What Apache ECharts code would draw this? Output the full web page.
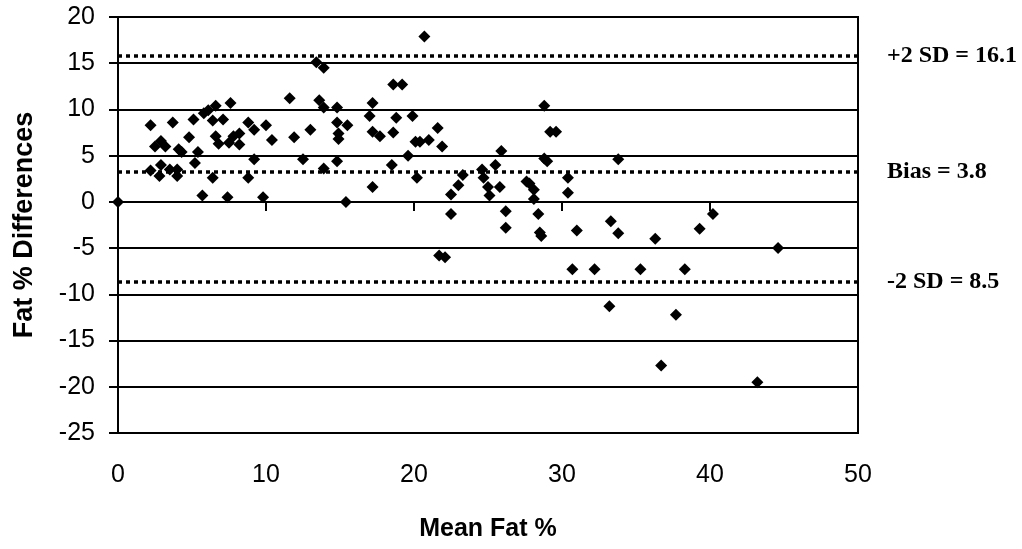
<!DOCTYPE html>
<html>
<head>
<meta charset="utf-8">
<script src="https://cdn.jsdelivr.net/npm/echarts@6/dist/echarts.min.js"></script>
<style>
    html, body { margin: 0; padding: 0; background: #fff; }
    #chart { width: 1022px; height: 549px; }
</style>
</head>
<body>
<div id="chart"></div>
<script>
// mean fat % (x) and fat % differences (y)
var meanFat = [
    0, 2.2, 2.5, 2.9, 3.2, 2.2, 2.8, 2.9, 3.5, 4.0, 4.0, 3.7, 4.1, 4.3, 4.8, 5.1, 5.2, 5.4, 5.7, 5.8,
    6.1, 6.4, 6.6, 6.4, 6.6, 6.8, 7.1, 7.4, 7.6, 7.5, 7.8, 8.2, 8.2, 8.8, 8.8, 9.2, 9.2, 9.8, 10.0, 10.4,
    11.6, 11.9, 12.5, 13.0, 13.4, 13.9, 13.6, 13.9, 13.9, 14.8, 14.8, 14.9, 14.9, 14.8, 15.5, 15.4,
    20.7, 18.6, 19.2, 17.2, 17.0, 17.2, 17.7, 18.8, 18.6, 19.9, 19.6, 18.5, 17.2, 20.1, 20.4, 21.0,
    21.6, 21.9, 20.2, 22.5, 23.0, 23.3, 22.5, 21.7, 22.1, 24.6, 24.7, 25.0, 25.1, 25.5, 25.8, 25.9,
    26.2, 26.2, 27.6, 27.8, 28.1, 28.1, 28.4, 28.5, 28.6, 28.8, 29.2, 29.6, 28.8, 29.0, 30.4, 30.4,
    31.0, 30.7, 32.2, 33.3, 33.8, 33.8, 35.3, 33.2, 36.3, 38.3, 37.7, 36.7, 39.3, 40.2, 44.6, 43.2
];
var fatDiff = [
    0, 8.3, 6.0, 6.6, 6.0, 3.4, 2.8, 4.0, 3.5, 3.5, 2.8, 8.6, 5.7, 5.4, 7.0, 8.9, 4.2, 5.4, 0.7, 9.6,
    9.9, 8.8, 10.4, 2.6, 7.1, 6.3, 8.9, 0.5, 10.7, 6.4, 7.1, 7.4, 6.2, 8.6, 2.6, 7.8, 4.6, 0.5, 8.3, 6.7,
    11.2, 7.0, 4.6, 7.8, 15.1, 14.5, 11.0, 10.2, 3.6, 10.2, 8.6, 7.4, 6.8, 4.4, 8.3, 0.0,
    17.9, 12.7, 12.7, 10.7, 9.3, 7.6, 7.1, 9.1, 7.5, 9.3, 5.0, 4.0, 1.6, 6.5, 6.5, 6.7,
    8.0, 6.0, 2.6, 0.8, 1.8, 2.9, -1.3, -5.8, -6.0, 3.5, 2.6, 1.6, 0.7, 4.0, 1.6, 5.5,
    -1.0, -2.8, 2.2, 2.0, 1.3, 0.3, -1.3, -3.3, -3.7, 10.4, 7.6, 7.6, 4.7, 4.4, 2.6, 1.0,
    -3.1, -7.3, -7.3, -2.1, -3.4, 4.6, -7.3, -11.3, -4.0, -7.3, -12.2, -17.7, -2.9, -1.3, -5.0, -19.5
];
// limits of agreement, drawn where the dotted lines sit
var limitValues = [15.8, 3.3, -8.6];
var limitLabels = ['+2 SD = 16.1', 'Bias = 3.8', '-2 SD = 8.5'];

var chart = echarts.init(document.getElementById('chart'));

var points = meanFat.map(function (x, i) {
    return [x, fatDiff[i]];
});

var option = {
    animation: false,
    backgroundColor: '#fff',
    grid: {
        left: 118, right: 164, top: 17, bottom: 116,
        show: true, borderColor: '#000', borderWidth: 2,
        outerBoundsMode: 'none'
    },
    xAxis: [{
        type: 'value', min: 0, max: 50, interval: 10,
        name: 'Mean Fat %', nameLocation: 'middle', nameGap: 84,
        nameTextStyle: { fontFamily: 'Liberation Sans', fontWeight: 'bold', fontSize: 25, color: '#000' },
        axisLine: { onZero: false, lineStyle: { color: '#000', width: 2 } },
        axisTick: { show: false },
        axisLabel: { margin: 30, fontFamily: 'Liberation Sans', fontSize: 25, color: '#000' },
        splitLine: { show: false }
    }, {
        // the zero line carries the x ticks, as in the original
        type: 'value', min: 0, max: 50, interval: 10, position: 'bottom',
        axisLine: { onZero: true, onZeroAxisIndex: 0, lineStyle: { color: '#000', width: 2 } },
        axisTick: { show: true, length: 9, lineStyle: { color: '#000', width: 2 } },
        axisLabel: { show: false },
        splitLine: { show: false }
    }],
    yAxis: {
        type: 'value', min: -25, max: 20, interval: 5,
        name: 'Fat % Differences', nameLocation: 'middle', nameGap: 80, nameRotate: 90,
        nameTextStyle: { fontFamily: 'Liberation Sans', fontWeight: 'bold', fontSize: 27, color: '#000' },
        axisLine: { show: true, onZero: false, lineStyle: { color: '#000', width: 2 } },
        axisTick: { show: true, length: 9, lineStyle: { color: '#000', width: 2 } },
        axisLabel: { margin: 23, fontFamily: 'Liberation Sans', fontSize: 25, color: '#000' },
        splitLine: { show: true, lineStyle: { color: '#000', width: 2 } }
    },
    series: [{
        type: 'scatter',
        xAxisIndex: 0,
        data: points,
        symbol: 'diamond',
        symbolSize: 12,
        clip: false,
        itemStyle: { color: '#000', opacity: 1 },
        markLine: {
            silent: true,
            symbol: ['none', 'none'],
            lineStyle: { color: '#000', width: 3.5, type: [4, 4], opacity: 1 },
            label: {
                show: true, position: 'end', distance: 29,
                fontFamily: 'Liberation Serif', fontWeight: 'bold', fontSize: 24, color: '#000',
                formatter: function (p) { return p.name; }
            },
            data: limitValues.map(function (v, i) {
                return { yAxis: v, name: limitLabels[i] };
            })
        }
    }]
};

chart.setOption(option);
</script>
</body>
</html>
